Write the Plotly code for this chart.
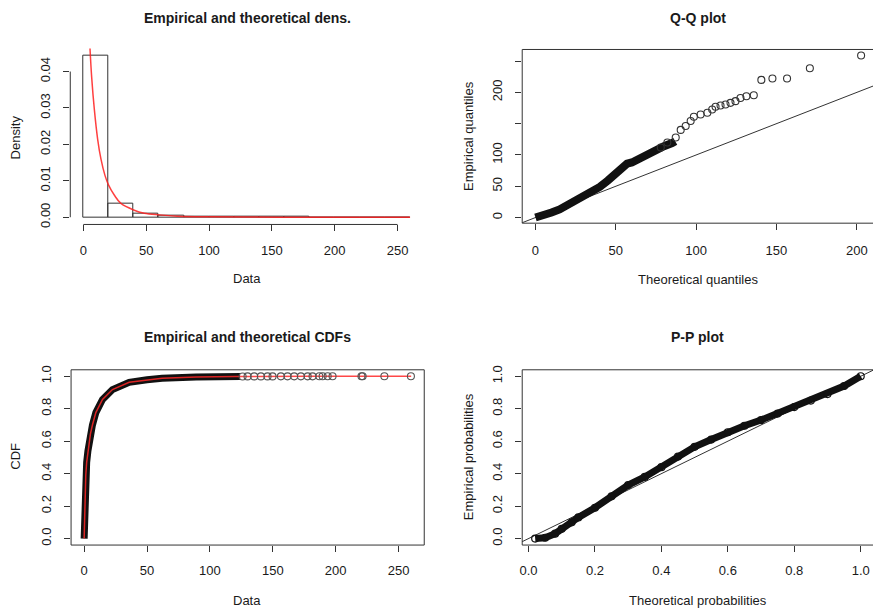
import plotly.graph_objects as go

W, H = 873, 614

# ---------------- data ----------------
# Panel 1: histogram (density) + theoretical density
hist_left = [0, 20, 40, 60, 80, 100, 120, 140, 160, 180, 200, 220, 240]
hist_density = [0.0443, 0.00364, 0.00092, 0.0003, 0.00015, 0.0001,
                0.00003, 0.00003, 0.00003, 0.00002, 0.00001, 0.00002, 0.00001]
hist_bin_width = 20
dens_x = [5.3, 6.6, 8.75, 11.4, 14, 17.2, 20.1, 24.6, 29.9, 40, 48.5, 60.5,
          75, 100, 130, 170, 210, 260]
dens_y = [0.0463, 0.0386, 0.0296, 0.0214, 0.016, 0.0115, 0.0088, 0.0061,
          0.0038, 0.002, 0.0011, 0.00065, 0.0003, 0.00012, 0.00005, 0.00002,
          0.00001, 0.000005]

# Panel 2: Q-Q plot
qq_dense_theo = [0, 5, 10, 15, 20, 25, 30, 35, 40, 45, 50, 55, 57, 60, 65,
                 70, 75, 80, 85, 87]
qq_dense_emp = [0, 3, 8, 13, 20, 28, 36, 42, 49, 59, 70, 79, 86, 88, 95,
                102, 108, 114, 119, 122]
qq_tail_theo = [78, 82.1, 87.3, 90.4, 93.5, 96.6, 98.6, 102.8, 107, 110,
                112.1, 115.2, 118.3, 121.4, 124.5, 127.6, 131.3, 135.9,
                140.6, 147.5, 156.6, 170.8, 202.7]
qq_tail_emp = [112, 120, 128, 140.1, 146.4, 154.3, 161.1, 164.8, 167.5,
               172.7, 177, 179, 180.6, 183.3, 186, 191.1, 193.8, 195.4,
               220, 222.2, 222.2, 238.5, 259]
qq_line = [-20, 300]

# Panel 3: CDFs
cdf_theo_x = [0, 0.3, 0.7, 1.3, 2, 3, 4, 5, 6.6, 9.3, 14.6, 22.5, 35.8, 50,
              62, 89, 120, 180, 260]
cdf_theo_y = [0, 0.1, 0.25, 0.39, 0.47, 0.54, 0.6, 0.645, 0.7, 0.776, 0.857,
              0.918, 0.963, 0.978, 0.988, 0.996, 0.999, 0.9997, 1.0]
ecdf_dense_x = [0, 0.2, 0.6, 1.3, 2, 3, 4, 5, 6.6, 9.3, 14.6, 22.5, 35.8,
                50, 62, 89, 110, 124]
ecdf_dense_y = [0, 0.1, 0.25, 0.39, 0.47, 0.54, 0.6, 0.645, 0.7, 0.776,
                0.857, 0.918, 0.963, 0.978, 0.988, 0.996, 0.998, 0.999]
ecdf_tail_x = [126, 129.9, 135.2, 140.5, 145.8, 149.8, 156.4, 161.7, 167,
               172.3, 177.7, 181.6, 187, 189.6, 193.6, 197.5, 220.5, 221.4,
               238.7, 259.8]
ecdf_tail_y = [0.9990, 0.9991, 0.9992, 0.9992, 0.9993, 0.9993, 0.9994,
               0.9994, 0.9995, 0.9995, 0.9996, 0.9996, 0.9997, 0.9997,
               0.9998, 0.9998, 0.9999, 0.9999, 0.9999, 1.0]

# Panel 4: P-P plot
pp_theo = [0.02, 0.05, 0.08, 0.1, 0.13, 0.15, 0.2, 0.25, 0.3, 0.35, 0.4,
           0.45, 0.5, 0.55, 0.6, 0.65, 0.7, 0.75, 0.8, 0.85, 0.9, 0.95, 1.0]
pp_emp = [0.0, 0.005, 0.03, 0.06, 0.1, 0.13, 0.19, 0.26, 0.33, 0.38, 0.44,
          0.505, 0.565, 0.61, 0.655, 0.695, 0.73, 0.77, 0.81, 0.85, 0.89,
          0.94, 1.0]
pp_line = [-0.1, 1.2]

# tick labels
dens_xticks = [0, 50, 100, 150, 200, 250]
dens_yticks = [0, 0.01, 0.02, 0.03, 0.04]
dens_yticktext = ["0.00", "0.01", "0.02", "0.03", "0.04"]
qq_xticks = [0, 50, 100, 150, 200]
qq_yticks = [0, 50, 100, 150, 200, 250]
qq_yticktext = ["0", "50", "100", "", "200", ""]
prob_ticks = [0, 0.2, 0.4, 0.6, 0.8, 1.0]
prob_ticktext = ["0.0", "0.2", "0.4", "0.6", "0.8", "1.0"]

# ---------------- styling ----------------
FONT = "Liberation Sans, Arial, Helvetica, sans-serif"
TXT = "#1a1a1a"
LINE = "#333333"


def px(x):
    return x / W


def py(y):
    return 1 - y / H


fig = go.Figure()

# Panel 1
fig.add_trace(go.Bar(
    x=hist_left, y=hist_density, width=hist_bin_width, offset=0,
    marker=dict(color="rgba(0,0,0,0)", line=dict(color=LINE, width=1)),
    xaxis="x", yaxis="y", showlegend=False))
fig.add_trace(go.Scatter(
    x=dens_x, y=dens_y, mode="lines",
    line=dict(color="rgba(255,30,30,0.85)", width=1.5, shape="spline"),
    xaxis="x", yaxis="y", showlegend=False))

# Panel 2
fig.add_trace(go.Scatter(
    x=qq_line, y=qq_line, mode="lines", line=dict(color=LINE, width=1),
    xaxis="x2", yaxis="y2", showlegend=False))
fig.add_trace(go.Scatter(
    x=qq_dense_theo, y=qq_dense_emp, mode="lines",
    line=dict(color="#111111", width=8),
    xaxis="x2", yaxis="y2", showlegend=False))
fig.add_trace(go.Scatter(
    x=qq_tail_theo, y=qq_tail_emp, mode="markers",
    marker=dict(symbol="circle-open", size=7, color="#333333", line=dict(width=1.1)),
    xaxis="x2", yaxis="y2", showlegend=False))

# Panel 3
fig.add_trace(go.Scatter(
    x=ecdf_dense_x, y=ecdf_dense_y, mode="lines",
    line=dict(color="#111111", width=7),
    xaxis="x3", yaxis="y3", showlegend=False))
fig.add_trace(go.Scatter(
    x=cdf_theo_x, y=cdf_theo_y, mode="lines",
    line=dict(color="rgba(255,40,40,0.85)", width=1.5),
    xaxis="x3", yaxis="y3", showlegend=False))
fig.add_trace(go.Scatter(
    x=ecdf_tail_x, y=ecdf_tail_y, mode="markers",
    marker=dict(symbol="circle-open", size=7, color="#555555", line=dict(width=1.1)),
    xaxis="x3", yaxis="y3", showlegend=False))

# Panel 4
fig.add_trace(go.Scatter(
    x=pp_line, y=pp_line, mode="lines", line=dict(color=LINE, width=1),
    xaxis="x4", yaxis="y4", showlegend=False))
fig.add_trace(go.Scatter(
    x=pp_theo, y=pp_emp, mode="lines+markers",
    line=dict(color="#111111", width=7),
    marker=dict(symbol="circle-open", size=7, color="#111111", line=dict(width=1.2)),
    xaxis="x4", yaxis="y4", showlegend=False))

common = dict(showgrid=False, zeroline=False, showline=False, ticks="outside",
              ticklen=6, tickwidth=1, tickcolor=LINE,
              tickfont=dict(family=FONT, size=13, color=TXT))

fig.update_layout(
    width=W, height=H, margin=dict(l=0, r=0, t=0, b=0),
    paper_bgcolor="white", plot_bgcolor="white",
    font=dict(family=FONT, color=TXT),
    bargap=0,
    xaxis=dict(domain=[px(67.5), px(421.6)], range=[-10.4, 270.4], anchor="y",
               tickvals=dens_xticks, ticklabelstandoff=8, **common),
    yaxis=dict(domain=[py(223.0), py(38.1)], range=[-0.00198, 0.0482], anchor="x",
               tickvals=dens_yticks, ticktext=dens_yticktext, tickangle=-90,
               ticklabelstandoff=8, **common),
    xaxis2=dict(domain=[px(521), 1.0], range=[-8.25, 210.1], anchor="y2",
                tickvals=qq_xticks, ticklabelstandoff=9, **common),
    yaxis2=dict(domain=[py(221.7), py(46)], range=[-9.0, 268.6], anchor="x2",
                tickvals=qq_yticks, ticktext=qq_yticktext, tickangle=-90,
                ticklabelstandoff=8, **common),
    xaxis3=dict(domain=[px(68.3), px(422.7)], range=[-10.4, 270.4], anchor="y3",
                tickvals=dens_xticks, ticklabelstandoff=7, **common),
    yaxis3=dict(domain=[py(547.3), py(370)], range=[-0.04, 1.04], anchor="x3",
                tickvals=prob_ticks, ticktext=prob_ticktext, tickangle=-90,
                ticklabelstandoff=8, **common),
    xaxis4=dict(domain=[px(521), 1.0], range=[-0.019, 1.037], anchor="y4",
                tickvals=prob_ticks, ticktext=prob_ticktext, ticklabelstandoff=7, **common),
    yaxis4=dict(domain=[py(547.3), py(370)], range=[-0.04, 1.04], anchor="x4",
                tickvals=prob_ticks, ticktext=prob_ticktext, tickangle=-90,
                ticklabelstandoff=8, **common),
)

shapes = []
# panel 1 axis lines spanning first..last tick (R style)
shapes.append(dict(type="line", xref="x", yref="y domain",
                   x0=dens_xticks[0], x1=dens_xticks[-1], y0=0, y1=0,
                   line=dict(color=LINE, width=1)))
shapes.append(dict(type="line", xref="x domain", yref="y",
                   x0=0, x1=0, y0=dens_yticks[0], y1=dens_yticks[-1],
                   line=dict(color=LINE, width=1)))
# boxes for other panels
for xa, ya, x1 in (("x2", "y2", 1.05), ("x3", "y3", 1.0), ("x4", "y4", 1.05)):
    shapes.append(dict(type="rect", xref=xa + " domain", yref=ya + " domain",
                       x0=0, x1=x1, y0=0, y1=1, line=dict(color=LINE, width=1),
                       fillcolor="rgba(0,0,0,0)", layer="above"))
fig.update_layout(shapes=shapes)

ann = []


def text(x, y, s, size=13, bold=False, angle=0):
    ann.append(dict(x=px(x), y=py(y), xref="paper", yref="paper",
                    text=("<b>%s</b>" % s) if bold else s, showarrow=False,
                    textangle=angle, xanchor="center", yanchor="middle",
                    font=dict(family=FONT, size=size, color=TXT)))


# titles
text(245, 14, "Empirical and theoretical dens.", 14, True)
text(697, 14, "Q-Q plot", 14, True)
text(245, 337, "Empirical and theoretical CDFs", 14, True)
text(697, 337, "P-P plot", 14, True)
# axis titles
text(245, 278, "Data")
text(13, 135, "Density", angle=-90)
text(697, 279, "Theoretical quantiles")
text(467, 133, "Empirical quantiles", angle=-90)
text(245, 603, "Data")
text(13, 457, "CDF", angle=-90)
text(697, 603, "Theoretical probabilities")
text(467, 458, "Empirical probabilities", angle=-90)
fig.update_layout(annotations=ann)

fig.write_html("out.html", config={"displayModeBar": False},
               post_script="document.body.style.margin='0';"
                           "document.body.style.overflow='hidden';")
